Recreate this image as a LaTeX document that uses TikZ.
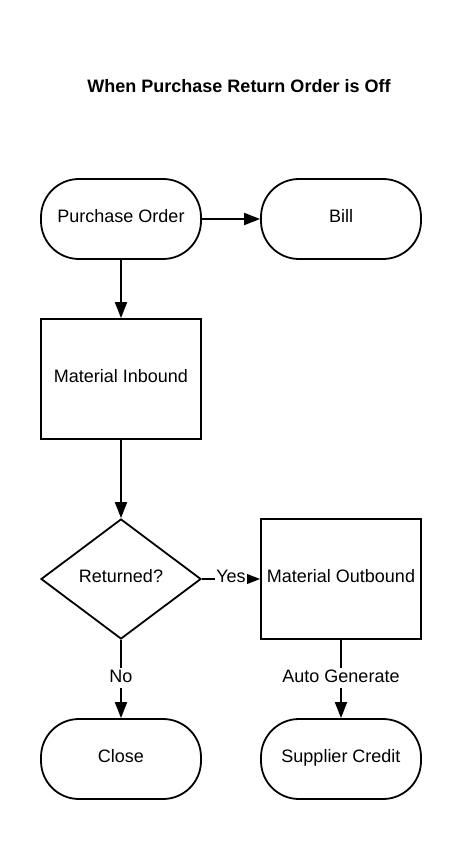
\documentclass[tikz,border=0pt]{standalone}
\usepackage{fontspec}
\setmainfont{Liberation Sans}
\usetikzlibrary{shapes.geometric,arrows.meta,positioning}

\begin{document}
\begin{tikzpicture}[x=1pt, y=-1pt,
        every node/.style={font=\fontsize{18}{21}\selectfont},
        term/.style={rectangle, draw=black, line width=1.8pt, fill=white, minimum width=160pt, minimum height=80pt, rounded corners=38pt, align=center, text height=13pt, text depth=6pt},
        proc/.style={rectangle, draw=black, line width=1.8pt, fill=white, minimum width=160pt, minimum height=120pt, align=center, text height=13pt, text depth=6pt},
        decide/.style={diamond, draw=black, line width=1.8pt, fill=white, minimum width=160pt, minimum height=120pt, inner sep=0pt, align=center, text height=13pt, text depth=6pt},
        arrow/.style={-{Triangle[length=16pt, width=12pt]}, line width=1.8pt, draw=black},
        label/.style={fill=white, inner sep=1pt, text height=13pt, text depth=5pt, yshift=1pt},
    ]

        \useasboundingbox (0, 0) rectangle (462, 858);

        \node[font=\fontsize{18}{21}\selectfont\bfseries] (title) at (239, 86) {When Purchase Return Order is Off};

        \node[term] (po) at (121, 219) {Purchase Order};
        \node[term] (bill) at (341, 219) {Bill};
        \node[proc] (inbound) at (121, 379) {Material Inbound};
        \node[decide] (returned) at (121, 579) {Returned?};
        \node[proc] (outbound) at (341, 579) {Material Outbound};
        \node[term] (close) at (121, 759) {Close};
        \node[term] (credit) at (341, 759) {Supplier Credit};

        \draw[arrow] (po) -- (bill);
        \draw[arrow] (po) -- (inbound);
        \draw[arrow] (inbound) -- (returned);
        \draw[arrow] (returned) -- node[label]{Yes} (outbound);
        \draw[arrow] (returned) -- node[label]{No} (close);
        \draw[arrow] (outbound) -- node[label]{Auto Generate} (credit);

    \end{tikzpicture}
\end{document}
